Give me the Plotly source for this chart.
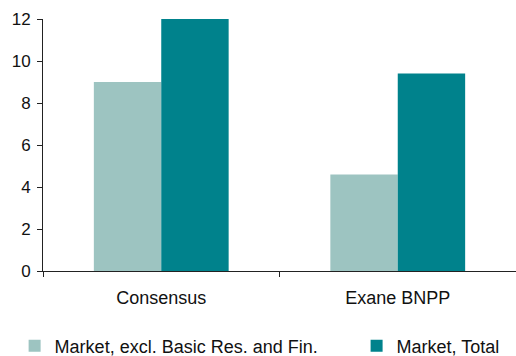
import plotly.graph_objects as go

categories = ["Consensus", "Exane BNPP"]
excl_basic_fin = [9.0, 4.6]
market_total = [12.0, 9.4]
series_names = ["Market, excl. Basic Res. and Fin.", "Market, Total"]
y_ticks = [0, 2, 4, 6, 8, 10, 12]

light_teal = "#9DC4C1"
dark_teal = "#00828C"
axis_color = "#222222"
font_family = "Liberation Sans, Arial, sans-serif"

fig = go.Figure()
fig.add_trace(go.Bar(x=categories, y=excl_basic_fin, name=series_names[0],
                     marker=dict(color=light_teal, line=dict(width=0)),
                     legend="legend"))
fig.add_trace(go.Bar(x=categories, y=market_total, name=series_names[1],
                     marker=dict(color=dark_teal, line=dict(width=0)),
                     legend="legend2"))

legend_style = dict(orientation="h", xanchor="left", y=-0.298, yanchor="middle",
                    font=dict(size=18), itemclick=False, bgcolor="rgba(0,0,0,0)")

fig.update_layout(
    width=516, height=356,
    margin=dict(l=43, r=0, t=19, b=85, autoexpand=False),
    paper_bgcolor="white", plot_bgcolor="white",
    barmode="group", bargap=0.43, bargroupgap=0,
    font=dict(family=font_family, size=18, color="#111111"),
    showlegend=True,
    legend=dict(x=-0.06, **legend_style),
    legend2=dict(x=0.663, **legend_style),
)
fig.update_xaxes(
    type="category", range=[-0.5, 1.5],
    showline=True, linecolor=axis_color, linewidth=1,
    ticks="outside", tickson="boundaries", ticklen=5, tickcolor=axis_color,
    showgrid=False, zeroline=False,
    tickfont=dict(size=18), ticklabelstandoff=10,
)
fig.update_yaxes(
    range=[0, 12], tickvals=y_ticks,
    showline=True, linecolor=axis_color, linewidth=1,
    ticks="outside", ticklen=5, tickcolor=axis_color,
    showgrid=False, zeroline=False,
    tickfont=dict(size=17), ticklabelstandoff=3,
)

fig.write_html("out.html")
